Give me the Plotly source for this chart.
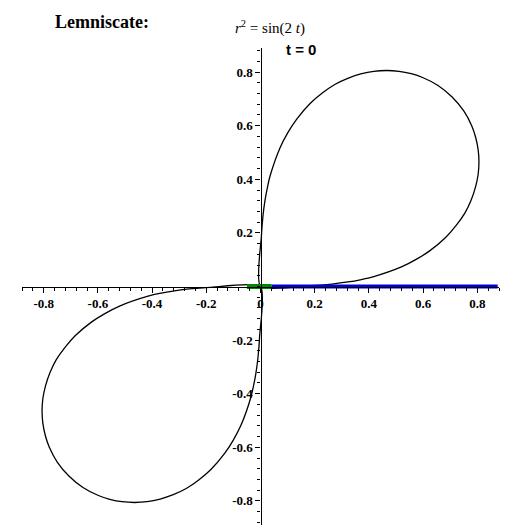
import plotly.graph_objects as go

# upper loop of the lemniscate (first half; second half mirrors it across y = x)
half_x = [0, 0.0033, 0.0092, 0.0169, 0.026, 0.036, 0.073, 0.102, 0.133, 0.183, 0.228, 0.274, 0.322, 0.370, 0.418, 0.465, 0.511, 0.556, 0.598, 0.655, 0.707]
half_y = [0, 0.187, 0.264, 0.323, 0.372, 0.415, 0.520, 0.576, 0.624, 0.683, 0.722, 0.754, 0.777, 0.793, 0.803, 0.806, 0.803, 0.794, 0.780, 0.750, 0.707]
loop_x = half_x + half_y[::-1][1:]
loop_y = half_y + half_x[::-1][1:]
ray_x = [0.04, 0.875]
ray_y = [0, 0]
rad_x = [-0.05, 0.04]
rad_y = [0, 0]
xticks = [-0.8, -0.6, -0.4, -0.2, 0, 0.2, 0.4, 0.6, 0.8]
yticks = [-0.8, -0.6, -0.4, -0.2, 0.2, 0.4, 0.6, 0.8]

fig = go.Figure()
sm = dict(color="black", width=1.3, shape="spline", smoothing=0.6)
fig.add_trace(go.Scatter(x=loop_x, y=loop_y, mode="lines", line=sm))
fig.add_trace(go.Scatter(x=[-v for v in loop_x], y=[-v for v in loop_y], mode="lines", line=sm))
fig.add_trace(go.Scatter(x=ray_x, y=ray_y, mode="lines", line=dict(color="#0000dd", width=4)))
fig.add_trace(go.Scatter(x=rad_x, y=rad_y, mode="lines", line=dict(color="#008800", width=5)))

tf = dict(family="Liberation Serif", size=13, color="black")
common = dict(anchor="free", position=0.5, showline=True, linecolor="black", linewidth=1.3,
              ticks="outside", ticklen=5, tickcolor="black", showgrid=False, zeroline=False,
              tickfont=tf, minor=dict(dtick=0.04, ticks="outside", ticklen=3, tickcolor="black"))
fig.update_layout(
    width=522, height=530, margin=dict(l=14, r=31, t=40, b=13),
    paper_bgcolor="white", plot_bgcolor="white", showlegend=False,
    xaxis=dict(range=[-0.88, 0.88], tickvals=xticks, ticktext=["<b>%g</b>" % v for v in xticks], **common),
    yaxis=dict(range=[-0.89, 0.89], tickvals=yticks, ticktext=["<b>%g</b>" % v for v in yticks], **common),
)

def px(x, y):
    return (x - 22) / 477, 1 - (y - 48) / 477

for text, xp, yp, font in [
    ("<b>Lemniscate:</b>", 53, 22, dict(family="Liberation Serif", size=18, color="black")),
    ("<i>r</i><sup>2</sup> = sin(2 <i>t</i>)", 233, 27, dict(family="Liberation Serif", size=15, color="black")),
    ("<b>t = 0</b>", 284, 49, dict(family="Liberation Sans", size=15, color="black")),
]:
    ax, ay = px(xp, yp)
    fig.add_annotation(text=text, x=ax, y=ay, xref="paper", yref="paper", xanchor="left", yanchor="middle",
                       showarrow=False, font=font)
fig.write_html("out.html")
